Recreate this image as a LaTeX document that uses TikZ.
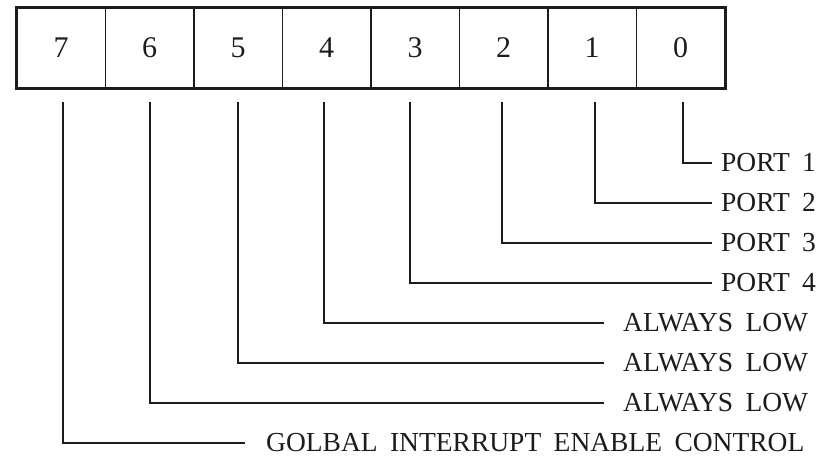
\documentclass[tikz,border=0pt]{standalone}
\usepackage{fontspec}
\setmainfont{Liberation Serif}[WordSpace=1.8]
\definecolor{ink}{RGB}{28,28,28}
\begin{document}
\begin{tikzpicture}[x=1pt,y=-1pt,
  bitcell/.style={draw=ink, line width=1.6pt, minimum width=88.5pt, minimum height=80pt,
    inner sep=0pt, anchor=north west, text=ink, font=\fontsize{30}{32}\selectfont},
  lbl/.style={anchor=west, inner sep=0pt, text=ink, font=\fontsize{27.5}{30}\selectfont},
  wire/.style={draw=ink, line width=1.4pt}
]
\useasboundingbox (0,0) rectangle (822,457);

% register cells, bit 7 on the left
\node[bitcell] (c7) at (16,7) {7};
\node[bitcell] (c6) at (104.5,7) {6};
\node[bitcell] (c5) at (193,7) {5};
\node[bitcell] (c4) at (281.5,7) {4};
\node[bitcell] (c3) at (370,7) {3};
\node[bitcell] (c2) at (458.5,7) {2};
\node[bitcell] (c1) at (547,7) {1};
\node[bitcell] (c0) at (635.5,7) {0};
\draw[ink, line width=2.6pt] (c7.north west) rectangle (c0.south east);

% start points of the leads, just below the register
\coordinate (b7) at (63,102);
\coordinate (b6) at (150,102);
\coordinate (b5) at (238,102);
\coordinate (b4) at (324,102);
\coordinate (b3) at (410,102);
\coordinate (b2) at (502,102);
\coordinate (b1) at (595,102);
\coordinate (b0) at (683,102);

% bit descriptions
\node[lbl] (t0) at (721,163) {PORT 1};
\node[lbl] (t1) at (721,203) {PORT 2};
\node[lbl] (t2) at (721,243) {PORT 3};
\node[lbl] (t3) at (721,283) {PORT 4};
\node[lbl] (t4) at (623,323) {ALWAYS LOW};
\node[lbl] (t5) at (623,363) {ALWAYS LOW};
\node[lbl] (t6) at (623,403) {ALWAYS LOW};
\node[lbl] (t7) at (266,443) {GOLBAL INTERRUPT ENABLE CONTROL};

% leads from each bit to its description
\draw[wire] (b0) |- ([xshift=-9pt]t0.west);
\draw[wire] (b1) |- ([xshift=-9pt]t1.west);
\draw[wire] (b2) |- ([xshift=-9pt]t2.west);
\draw[wire] (b3) |- ([xshift=-9pt]t3.west);
\draw[wire] (b4) |- ([xshift=-19pt]t4.west);
\draw[wire] (b5) |- ([xshift=-19pt]t5.west);
\draw[wire] (b6) |- ([xshift=-19pt]t6.west);
\draw[wire] (b7) |- ([xshift=-21pt]t7.west);
\end{tikzpicture}
\end{document}
